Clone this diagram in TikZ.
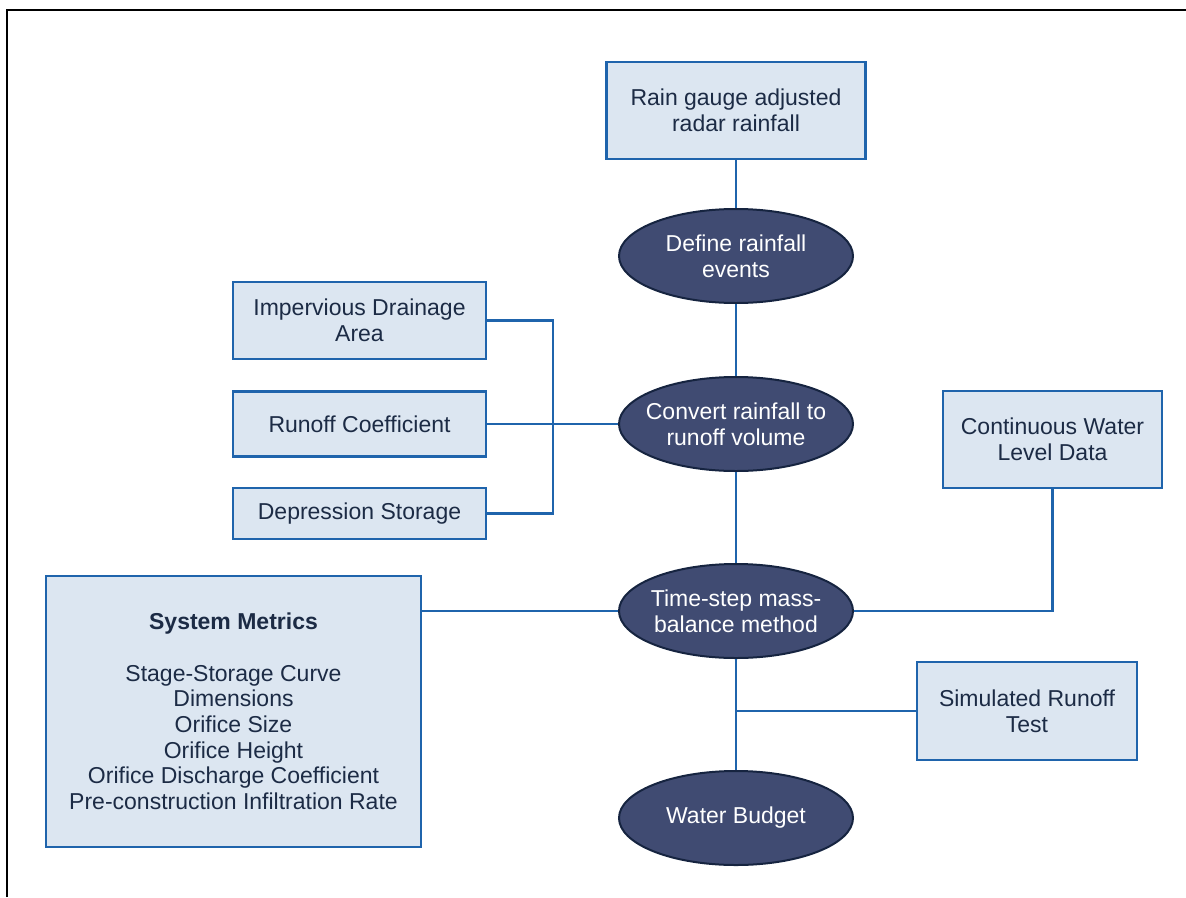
\documentclass[tikz,border=0pt]{standalone}
\usepackage{fontspec}
\setmainfont{Liberation Sans}
\usetikzlibrary{shapes.geometric}
\definecolor{boxfill}{RGB}{220,230,241}
\definecolor{boxline}{RGB}{31,100,172}
\definecolor{ellfill}{RGB}{64,75,114}
\definecolor{ellline}{RGB}{22,36,64}
\definecolor{boxtext}{RGB}{28,43,69}
\begin{document}
\begin{tikzpicture}[x=1pt,y=-1pt,
  every node/.style={font=\fontsize{23}{25.7}\selectfont, align=center, inner sep=0pt},
  infobox/.style={rectangle, draw=boxline, line width=2.6pt, fill=boxfill, text=boxtext},
  procell/.style={ellipse, draw=ellline, line width=2pt, fill=ellfill, text=white,
    inner xsep=-40pt, inner ysep=-20pt, minimum width=234, minimum height=94},
  link/.style={draw=boxline, line width=2.2pt}]
\useasboundingbox (0,0) rectangle (1186,897);
\draw[line width=2.2pt, black] (7,897) -- (7,10) -- (1186,10);

\node[infobox, minimum width=259, minimum height=97] (rain) at (736,110.5) {Rain gauge adjusted\\radar rainfall};
\node[procell] (define) at (736,256) {Define rainfall\\events};
\node[procell] (convert) at (736,424) {Convert rainfall to\\runoff volume};
\node[procell] (timestep) at (736,611) {Time-step mass-\\balance method};
\node[procell] (budget) at (736,818) {Water Budget};

\node[infobox, minimum width=253, minimum height=77] (imp) at (359.5,320.5) {Impervious Drainage\\Area};
\node[infobox, minimum width=253, minimum height=65] (roc) at (359.5,424) {Runoff Coefficient};
\node[infobox, minimum width=253, minimum height=51] (dep) at (359.5,513.5) {Depression Storage};

\node[infobox, minimum width=219, minimum height=97] (cwl) at (1052.5,439.5) {Continuous Water\\Level Data};
\node[infobox, minimum width=220, minimum height=98] (srt) at (1027,711) {Simulated Runoff\\Test};
\node[infobox, minimum width=375, minimum height=271] (sm) at (233.5,711.5) {\textbf{System Metrics}\\[25.7pt]Stage-Storage Curve\\Dimensions\\Orifice Size\\Orifice Height\\Orifice Discharge Coefficient\\Pre-construction Infiltration Rate};

\coordinate (bx) at (553,424);

\path[link] (rain.south) -- (define.north);
\path[link] (define.south) -- (convert.north);
\path[link] (convert.south) -- (timestep.north);
\path[link] (timestep.south) -- (budget.north);
\path[link] (roc.east) -- (convert.west);
\path[link] (imp.east) -| (bx) |- (dep.east);
\path[link] (cwl.south) |- (timestep.east);
\path[link] (timestep.west) -- (timestep.west -| sm.east);
\path[link] (srt.west) -- (srt.west -| budget.north);
\end{tikzpicture}
\end{document}
